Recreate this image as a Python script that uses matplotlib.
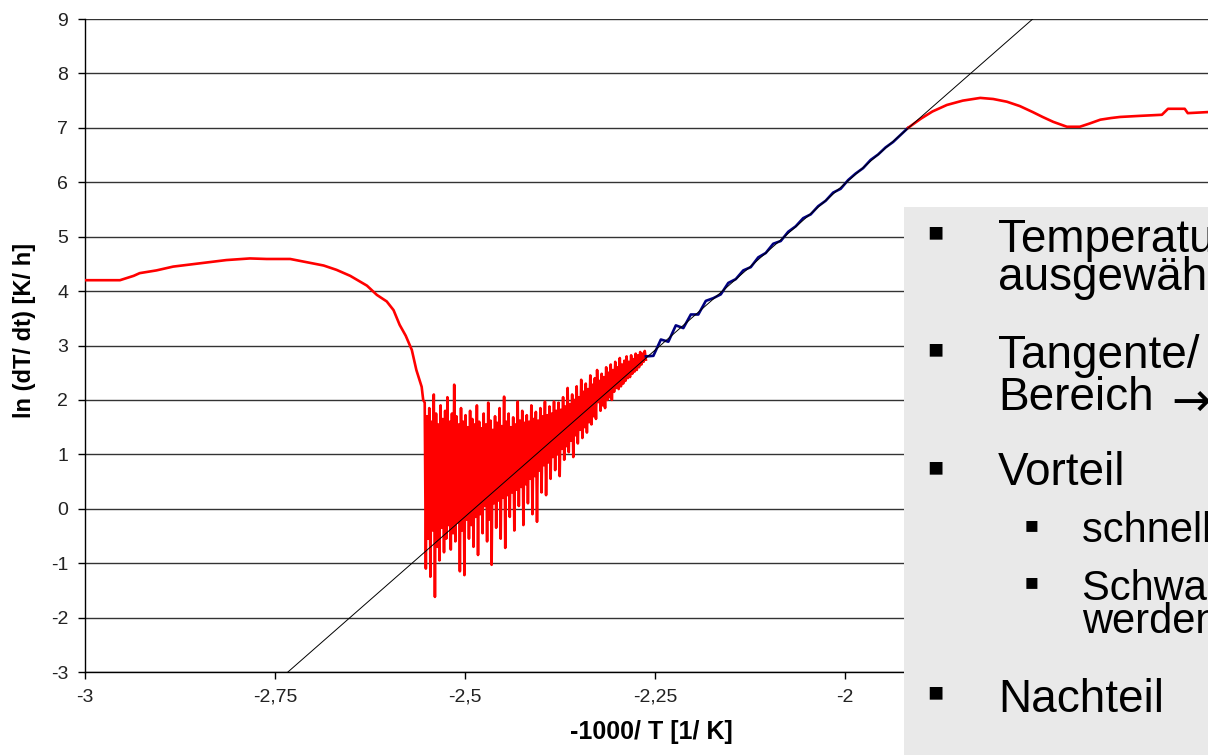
import numpy as np
import matplotlib.pyplot as plt
from matplotlib.patches import Rectangle
from matplotlib.ticker import FuncFormatter, FixedLocator, MultipleLocator

plt.rcParams['font.family'] = ['Liberation Sans', 'DejaVu Sans']

# red curve, low-temperature part (before the noisy section)
left_x = [-3.0, -2.954, -2.936, -2.928, -2.906, -2.884, -2.849, -2.814, -2.783,
          -2.761, -2.730, -2.708, -2.686, -2.669, -2.651, -2.629, -2.616, -2.603,
          -2.594, -2.586, -2.578, -2.570, -2.564, -2.557, -2.555]
left_y = [4.20, 4.20, 4.28, 4.33, 4.38, 4.45, 4.51, 4.57, 4.60,
          4.59, 4.59, 4.53, 4.47, 4.39, 4.28, 4.10, 3.93, 3.81,
          3.65, 3.38, 3.18, 2.92, 2.55, 2.24, 2.00]

# noisy section, alternating upper / lower samples
noise_start, noise_end = -2.553, -2.262
noise_y = [
    1.95, -1.10, 1.70, -0.55, 1.85, -1.25, 1.60, -0.40, 2.10, -1.62,
    1.75, -0.70, 1.55, -0.95, 1.90, -0.35, 1.65, -0.80, 1.80, -0.55,
    2.05, -0.30, 1.60, -0.75, 1.75, -0.45, 2.28, -0.60, 1.70, -0.25,
    1.55, -1.15, 1.85, -0.40, 1.60, -1.22, 1.72, -0.20, 1.50, -0.55,
    1.80, -0.30, 1.65, -0.70, 1.55, -0.15, 1.90, -0.85, 1.60, -0.10,
    1.48, -0.45, 1.75, 0.05, 1.55, -0.60, 1.95, -0.20, 1.62, -1.03,
    1.45, 0.10, 1.70, -0.35, 1.58, 0.15, 1.85, -0.55, 1.52, 0.20,
    2.06, -0.72, 1.60, 0.25, 1.75, -0.15, 1.50, 0.30, 1.68, -0.40,
    1.55, 0.35, 1.97, 0.05, 1.62, 0.40, 1.80, -0.30, 1.58, 0.45,
    1.72, 0.10, 1.60, 0.55, 1.90, -0.10, 1.65, 0.60, 1.78, -0.24,
    1.62, 0.70, 1.85, 0.30, 1.70, 0.80, 1.97, 0.25, 1.72, 0.85,
    1.88, 0.55, 1.75, 0.95, 1.97, 0.71, 1.80, 1.00, 1.95, 0.60,
    1.82, 1.10, 2.05, 0.90, 1.88, 1.15, 2.22, 1.04, 1.92, 1.25,
    2.10, 0.95, 2.00, 1.35, 2.25, 1.20, 2.05, 1.45, 2.37, 1.30,
    2.15, 1.50, 2.30, 1.40, 2.20, 1.59, 2.45, 1.55, 2.28, 1.70,
    2.40, 1.65, 2.55, 1.96, 2.35, 1.80, 2.48, 1.90, 2.42, 1.85,
    2.60, 2.00, 2.50, 2.05, 2.65, 2.00, 2.55, 2.15, 2.70, 2.22,
    2.60, 2.20, 2.77, 2.25, 2.65, 2.30, 2.72, 2.35, 2.80, 2.40,
    2.70, 2.42, 2.82, 2.48, 2.75, 2.52, 2.85, 2.55, 2.82, 2.60,
    2.88, 2.65, 2.85, 2.70, 2.90, 2.74,
]

# fitted (blue) section
blue_start, blue_end = -2.262, -1.917
blue_y = [2.80, 2.81, 3.11, 3.07, 3.37, 3.32, 3.57, 3.57, 3.82, 3.87,
          3.94, 4.15, 4.22, 4.38, 4.44, 4.62, 4.70, 4.87, 4.92, 5.09,
          5.19, 5.34, 5.41, 5.56, 5.66, 5.81, 5.88, 6.04, 6.16, 6.26,
          6.41, 6.51, 6.64, 6.74, 6.87, 7.00]

# red curve, high-temperature part
right_x = [-1.917, -1.900, -1.885, -1.866, -1.845, -1.822, -1.805, -1.787,
           -1.770, -1.753, -1.740, -1.726, -1.708, -1.691, -1.678, -1.664,
           -1.650, -1.638, -1.612, -1.583, -1.575, -1.553, -1.549, -1.522]
right_y = [7.00, 7.17, 7.30, 7.42, 7.50, 7.55, 7.53, 7.48,
           7.40, 7.29, 7.20, 7.11, 7.02, 7.02, 7.08, 7.15,
           7.18, 7.20, 7.22, 7.24, 7.35, 7.35, 7.27, 7.29]

# tangent through the linear range
tangent_x = [-2.733, -1.753]
tangent_y = [-3.0, 9.0]

x_ticks = [-3, -2.75, -2.5, -2.25, -2]

noise_x = np.linspace(noise_start, noise_end, len(noise_y))
blue_x = np.linspace(blue_start, blue_end, len(blue_y))

fig = plt.figure(figsize=(12.08, 7.55), dpi=100)
ax = fig.add_axes([0.07036, 0.10993, 0.94371, 0.86490])

red_x = list(left_x) + list(noise_x)
red_y = list(left_y) + list(noise_y)
ax.plot(red_x, red_y, color='#ff0000', lw=1.9, zorder=3)
ax.plot(blue_x, blue_y, color='#000080', lw=1.9, zorder=3)
ax.plot(right_x, right_y, color='#ff0000', lw=1.9, zorder=3)
ax.plot(tangent_x, tangent_y, color='black', lw=0.7, zorder=4)

ax.set_xlim(-3, -1.5)
ax.set_ylim(-3, 9)
ax.xaxis.set_major_locator(FixedLocator(x_ticks))
ax.yaxis.set_major_locator(MultipleLocator(1))
fmt = FuncFormatter(lambda v, p: ('%g' % v).replace('.', ','))
ax.xaxis.set_major_formatter(fmt)
ax.yaxis.set_major_formatter(fmt)

ax.yaxis.grid(True, color='#333333', lw=1.0)
ax.set_axisbelow(True)
for s in ['top', 'right']:
    ax.spines[s].set_visible(False)
for s in ['left', 'bottom']:
    ax.spines[s].set_color('black')
    ax.spines[s].set_linewidth(1.0)
ax.tick_params(direction='out', length=5, width=1, color='black',
               labelsize=14, labelcolor='#222222', pad=7)

fig.text(651 / 1208, 1 - 732 / 755, '-1000/ T [1/ K]', ha='center', va='center',
         fontsize=18, fontweight='bold')
fig.text(25 / 1208, 1 - 330 / 755, 'ln (dT/ dt) [K/ h]', ha='center', va='center',
         rotation=90, fontsize=17, fontweight='bold')

# text panel on the right
fig.patches.append(Rectangle((904 / 1208, 0), 1, 1 - 207 / 755,
                             transform=fig.transFigure, facecolor='#e9e9e9',
                             edgecolor='none', zorder=5))

big, small = 33, 30
lines = [
    (998, 252, 'Temperaturbereich wird', big),
    (998, 290, 'ausgewählt', big),
    (998, 368, 'Tangente/ Gerade im linearen', big),
    (998, 410, 'Bereich', big),
    (998, 485, 'Vorteil', big),
    (1082, 542, 'schnelle Auswertung', small),
    (1082, 600, 'Schwankungen können geglättet', small),
    (1082, 633, 'werden', small),
    (998, 712, 'Nachteil', big),
]
for x, y, t, fs in lines:
    fig.text(x / 1208, 1 - y / 755, t, ha='left', va='baseline', fontsize=fs,
             color='black', zorder=6)
fig.text(1172 / 1208, 1 - 404 / 755, '→ Aktivierungsenergie', ha='left',
         va='center', fontsize=34, family='DejaVu Sans', zorder=6)

bullets = [(935, 235, 37), (935, 352, 37), (935, 470, 37), (935, 695, 37),
           (1031, 528, 32), (1031, 585, 32)]
for x, y, fs in bullets:
    fig.text(x / 1208, 1 - y / 755, '▪', ha='center', va='center', fontsize=fs,
             color='black', zorder=6)

fig.savefig('out.png', dpi=100)
